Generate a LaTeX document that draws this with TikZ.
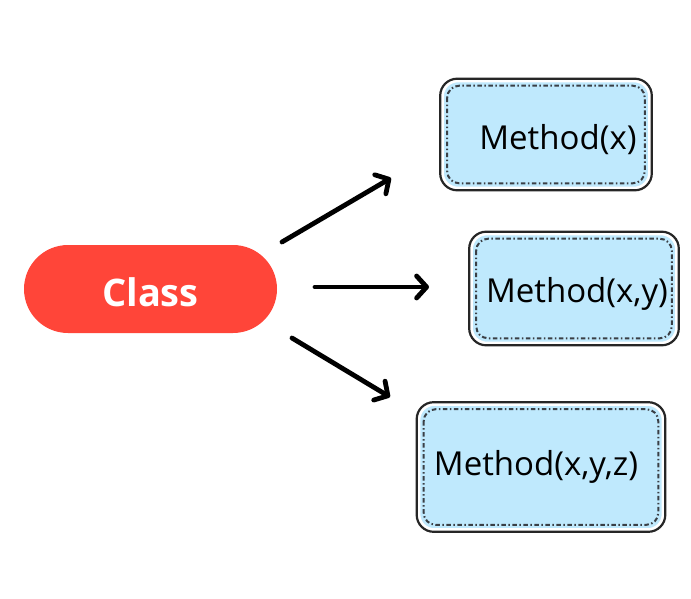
\documentclass[tikz,border=0pt]{standalone}
\usepackage{fontspec}
\setmainfont{Open Sans}
\usetikzlibrary{arrows.meta}
\definecolor{classred}{HTML}{FF4539}
\definecolor{methodblue}{HTML}{BFE9FD}
\definecolor{dotgray}{HTML}{3A3F45}
\tikzset{
  classbox/.style={rectangle, rounded corners=44pt, fill=classred, minimum width=253pt, minimum height=88pt, inner sep=0pt},
  classtext/.style={text=white, font=\fontsize{38}{40}\selectfont\bfseries, text height=35pt},
  mbox/.style={rectangle, rounded corners=15pt, fill=methodblue, draw=white, line width=1.6pt, inner sep=0pt},
  outline/.style={draw=black!85, line width=2.2pt, rounded corners=17pt},
  mtext/.style={text=black, font=\fontsize{33}{36}\selectfont, inner sep=0pt},
  dotline/.style={draw=dotgray, line width=2pt, dash pattern=on 4.5pt off 2.5pt on 1.5pt off 2.5pt, rounded corners=12pt},
  arrowline/.style={line width=4.8pt, line cap=round, -{Straight Barb[length=10pt,width=22pt,line width=4.8pt,round]}}
}
\begin{document}
\begin{tikzpicture}[x=1pt,y=-1pt]
\useasboundingbox (0,0) rectangle (691,598);
% class
\node[classbox, classtext] (class) at (150.5,289) {Class};
% method boxes
\node[mbox, minimum width=206pt, minimum height=106pt] (b1) at (546,134.5) {};
\node[mbox, minimum width=204pt, minimum height=108pt] (b2) at (574,288.5) {};
\node[mbox, minimum width=243pt, minimum height=124pt] (b3) at (541,467) {};
\draw[outline] ([shift={(-2,-2)}]b1.north west) rectangle ([shift={(2,2)}]b1.south east);
\draw[outline] ([shift={(-2,-2)}]b2.north west) rectangle ([shift={(2,2)}]b2.south east);
\draw[outline] ([shift={(-2,-2)}]b3.north west) rectangle ([shift={(2,2)}]b3.south east);
\draw[dotline] ([shift={(5,5)}]b1.north west) rectangle ([shift={(-5,-5)}]b1.south east);
\draw[dotline] ([shift={(5,5)}]b2.north west) rectangle ([shift={(-5,-5)}]b2.south east);
\draw[dotline] ([shift={(5,5)}]b3.north west) rectangle ([shift={(-5,-5)}]b3.south east);
\node[mtext] (t1) at (558,140) {Method(x)};
\node[mtext] (t2) at (577,294) {Method(x,y)};
\node[mtext] (t3) at (536,467) {Method(x,y,z)};
% arrow ends
\coordinate (s1) at (282,242);
\coordinate (e1) at (391,178);
\coordinate (s2) at (315,287);
\coordinate (e2) at (429,287);
\coordinate (s3) at (292,338);
\coordinate (e3) at (390,397);
\draw[arrowline] (s1) -- (e1);
\draw[arrowline] (s2) -- (e2);
\draw[arrowline] (s3) -- (e3);
\end{tikzpicture}
\end{document}
